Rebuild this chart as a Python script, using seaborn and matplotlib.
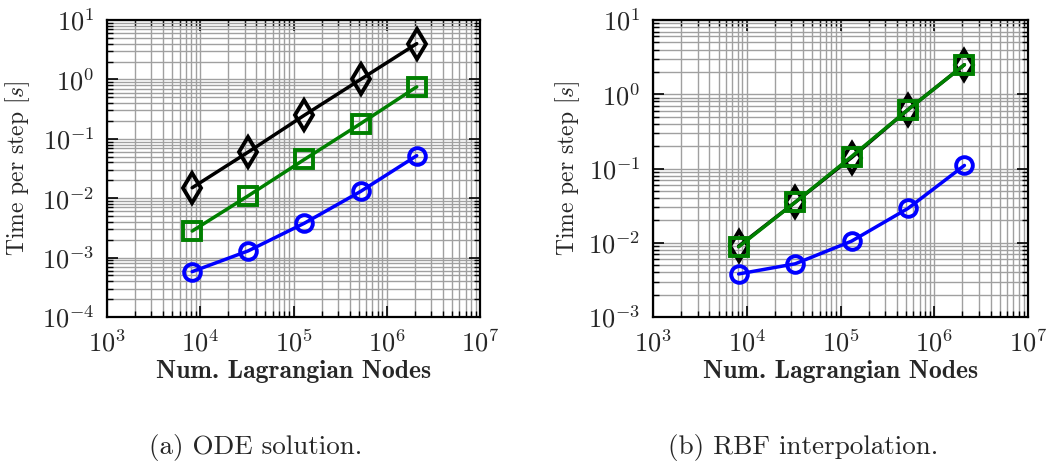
import numpy as np
import pandas as pd
import matplotlib
matplotlib.use("Agg")
import matplotlib.pyplot as plt
import seaborn as sns

# ---- data ----
nodes = [8192, 32768, 131072, 524288, 2097152]

ode_black = [0.015, 0.060, 0.25, 1.0, 4.0]
ode_green = [0.0028, 0.011, 0.045, 0.18, 0.75]
ode_blue = [0.00058, 0.0013, 0.0038, 0.013, 0.052]

rbf_black = [0.0090, 0.035, 0.14, 0.62, 2.5]
rbf_green = [0.0088, 0.035, 0.145, 0.62, 2.5]
rbf_blue = [0.0038, 0.0052, 0.0105, 0.029, 0.11]

x_label = "Num. Lagrangian Nodes"
y_label = "Time per step [$s$]"
captions = ["(a) ODE solution.", "(b) RBF interpolation."]

sns.set_style("ticks")
plt.rcParams["font.family"] = ["cmr10", "DejaVu Serif"]
plt.rcParams["mathtext.fontset"] = "cm"
plt.rcParams["axes.formatter.use_mathtext"] = True

fig = plt.figure(figsize=(10.48, 4.61), dpi=100)
ax1 = fig.add_axes([107 / 1048, 1 - 317 / 461, (480 - 107) / 1048, (317 - 20) / 461])
ax2 = fig.add_axes([653 / 1048, 1 - 317 / 461, (1028 - 653) / 1048, (317 - 20) / 461])

def draw(ax, series, ylim, ylab_x):
    for vals, color, marker, ms in series:
        df = pd.DataFrame({"x": nodes, "y": vals})
        sns.lineplot(data=df, x="x", y="y", ax=ax, color=color, marker=marker,
                     markersize=ms, markerfacecolor="none", markeredgecolor=color,
                     markeredgewidth=2.8, linewidth=2.5, zorder=3)
    ax.set_xscale("log")
    ax.set_yscale("log")
    ax.set_xlim(1e3, 1e7)
    ax.set_ylim(*ylim)
    for axis in (ax.xaxis, ax.yaxis):
        axis.set_major_locator(matplotlib.ticker.LogLocator(base=10, numticks=30))
        axis.set_minor_locator(matplotlib.ticker.LogLocator(base=10, subs=np.arange(2, 10), numticks=30))
    ax.grid(True, which="both", color="#a0a0a0", linewidth=1.0)
    ax.tick_params(which="both", direction="in", top=True, right=True,
                   labelsize=19, color="black")
    ax.tick_params(which="major", length=8, width=1.2, pad=9)
    ax.tick_params(which="minor", length=4, width=1.0)
    for s in ax.spines.values():
        s.set_linewidth(1.6)
        s.set_color("black")
    ax.set_xlabel(x_label, fontfamily="cmb10", fontsize=18.5)
    ax.set_ylabel(y_label, fontsize=17)
    ax.xaxis.set_label_coords(0.5, -0.185)
    ax.yaxis.set_label_coords(ylab_x, 0.5)
    ax.xaxis.label.set_va("center")
    ax.yaxis.label.set_va("center")

draw(ax1, [(ode_black, "black", "d", 15), (ode_green, "green", "s", 13), (ode_blue, "blue", "o", 12)], (1e-4, 1e1), -0.239)
draw(ax2, [(rbf_black, "black", "d", 15), (rbf_green, "green", "s", 13), (rbf_blue, "blue", "o", 12)], (1e-3, 1e1), -0.229)

fig.text(256 / 1048, 1 - 447 / 461, captions[0], ha="center", va="center", fontsize=19.5)
fig.text(803 / 1048, 1 - 447 / 461, captions[1], ha="center", va="center", fontsize=19.5)

fig.savefig("out.png", dpi=100)
